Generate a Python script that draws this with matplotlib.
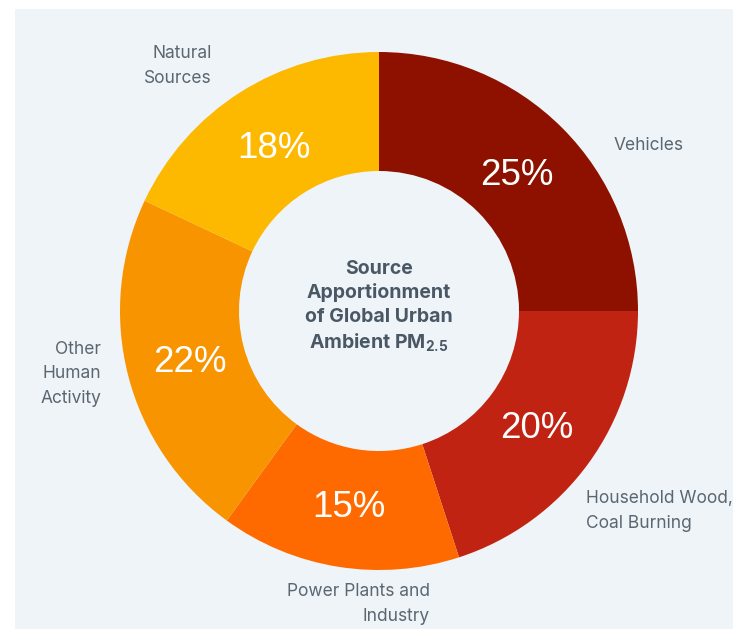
import matplotlib
matplotlib.use('Agg')
import matplotlib.pyplot as plt
from matplotlib.patches import Rectangle

# ---- data (clockwise from 12 o'clock) ----
sources = ['Vehicles', 'Household Wood,\nCoal Burning', 'Power Plants and\nIndustry',
           'Other\nHuman\nActivity', 'Natural\nSources']
shares = [25, 20, 15, 22, 18]
colors = ['#8e1100', '#c02312', '#ff6a00', '#f79400', '#fdb800']
title = 'Source\nApportionment\nof Global Urban\nAmbient PM$_{\\mathbf{2.5}}$'

# ---- layout (pixels, origin top-left) ----
W, H = 733, 629
CX, CY = 379, 311
R_OUT, R_IN = 259, 140
BG = '#eff4f9'
LABEL_COLOR = '#5b6770'
TITLE_COLOR = '#4a5765'
# anchor x, anchor y, horizontal alignment for each outer label
label_pos = [(614, 146, 'left'), (586, 511, 'left'), (430, 604, 'right'),
             (101, 374, 'right'), (212, 66, 'right')]

plt.rcParams['font.family'] = ['Inter', 'DejaVu Sans']
plt.rcParams['mathtext.fontset'] = 'custom'
plt.rcParams['mathtext.rm'] = 'Inter'
plt.rcParams['mathtext.bf'] = 'Inter:bold'

fig = plt.figure(figsize=(W / 100, H / 100), dpi=100)
fig.patch.set_facecolor('white')
ax = fig.add_axes([0, 0, 1, 1])
ax.set_xlim(0, W)
ax.set_ylim(0, H)
ax.set_aspect('equal')
ax.axis('off')

# light panel behind the chart
ax.add_patch(Rectangle((15, 0), W - 15, H - 9, facecolor=BG, edgecolor='none', zorder=0))

wedges, _, pct = ax.pie(
    shares, colors=colors, startangle=90, counterclock=False,
    center=(CX, H - CY), radius=R_OUT,
    wedgeprops=dict(width=R_OUT - R_IN, linewidth=0),
    autopct='%d%%', pctdistance=0.755,
    textprops=dict(color='white', fontsize=26.5, family='Liberation Sans'))
for t in pct:
    x, y = t.get_position()
    t.set_position((x, y - 3))
ax.set_xlim(0, W)
ax.set_ylim(0, H)

for (x, y, ha), name in zip(label_pos, sources):
    ax.text(x, H - y, name, ha=ha, va='center', color=LABEL_COLOR,
            fontsize=12.5, linespacing=1.55, multialignment=ha)

ax.text(CX, H - 307, title, ha='center', va='center', color=TITLE_COLOR,
        fontsize=14, fontweight='bold', linespacing=1.38)

fig.savefig('out.png', dpi=100, facecolor='white')
